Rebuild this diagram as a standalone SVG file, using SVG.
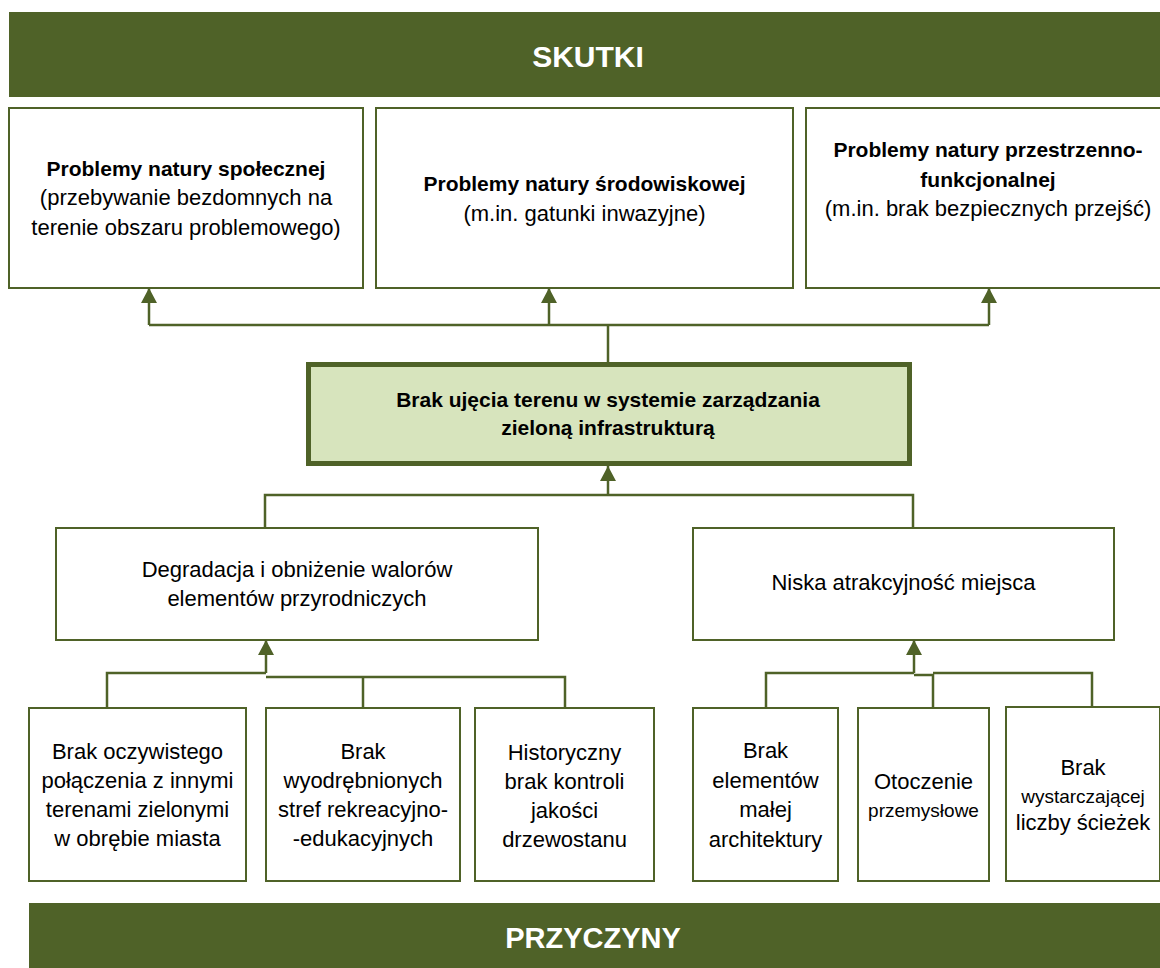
<svg xmlns="http://www.w3.org/2000/svg" width="1160" height="968" viewBox="0 0 1160 968">
<defs>
<style>
.banner{fill:#4f6228}
.bt{font-family:"Liberation Sans",Arial,sans-serif;font-weight:bold;font-size:29px;fill:#ffffff;text-anchor:middle}
.box{fill:#ffffff;stroke:#4f6228;stroke-width:2}
.main{fill:#d7e4bd;stroke:#4f6228;stroke-width:5}
.t{font-family:"Liberation Sans",Arial,sans-serif;font-size:22px;fill:#000000;text-anchor:middle}
.b{font-family:"Liberation Sans",Arial,sans-serif;font-size:21px;font-weight:bold;fill:#000000;text-anchor:middle}
.s{font-size:19px}
.con{fill:none;stroke:#4f6228;stroke-width:2.5}
</style>
<marker id="arr" viewBox="0 0 15 16" refX="15" refY="8" markerWidth="15" markerHeight="16" markerUnits="userSpaceOnUse" orient="auto">
<path d="M0,0 L15,8 L0,16 z" fill="#4f6228"/>
</marker>
</defs>
<rect width="1160" height="968" fill="#ffffff"/>

<g id="skutki">
<rect class="banner" x="9" y="12" width="1151" height="85"/>
<text class="bt" x="588" y="67" style="font-size:30px">SKUTKI</text>
</g>

<g id="n-spoleczne">
<rect class="box" x="9" y="108" width="354" height="180"/>
<text class="b" x="186" y="176">Problemy natury społecznej</text>
<text class="t" x="186" y="205">(przebywanie bezdomnych na</text>
<text class="t" x="186" y="235">terenie obszaru problemowego)</text>
</g>

<g id="n-srodowiskowe">
<rect class="box" x="376" y="108" width="417" height="180"/>
<text class="b" x="584.5" y="191">Problemy natury środowiskowej</text>
<text class="t" x="584.5" y="221">(m.in. gatunki inwazyjne)</text>
</g>

<g id="n-przestrzenne">
<rect class="box" x="806" y="108" width="364" height="180"/>
<text class="b" x="988" y="157">Problemy natury przestrzenno-</text>
<text class="b" x="988" y="187">funkcjonalnej</text>
<text class="t" x="988" y="216">(m.in. brak bezpiecznych przejść)</text>
</g>

<g id="n-main">
<rect class="main" x="308.5" y="364.5" width="601" height="99"/>
<text class="b" x="608" y="407">Brak ujęcia terenu w systemie zarządzania</text>
<text class="b" x="608" y="435">zieloną infrastrukturą</text>
</g>

<g id="n-degradacja">
<rect class="box" x="56" y="528" width="482" height="112"/>
<text class="t" x="297" y="577">Degradacja i obniżenie walorów</text>
<text class="t" x="297" y="606">elementów przyrodniczych</text>
</g>

<g id="n-niska">
<rect class="box" x="693" y="528" width="421" height="112"/>
<text class="t" x="903.5" y="590">Niska atrakcyjność miejsca</text>
</g>

<g id="c1">
<rect class="box" x="29" y="708" width="217" height="173"/>
<text class="t" x="137.5" y="759">Brak oczywistego</text>
<text class="t" x="137.5" y="788">połączenia z innymi</text>
<text class="t" x="137.5" y="817">terenami zielonymi</text>
<text class="t" x="137.5" y="846">w obrębie miasta</text>
</g>

<g id="c2">
<rect class="box" x="266" y="708" width="194" height="173"/>
<text class="t" x="363" y="759">Brak</text>
<text class="t" x="363" y="788">wyodrębnionych</text>
<text class="t" x="363" y="817">stref rekreacyjno-</text>
<text class="t" x="363" y="846">-edukacyjnych</text>
</g>

<g id="c3">
<rect class="box" x="475" y="708" width="179" height="173"/>
<text class="t" x="564.5" y="760">Historyczny</text>
<text class="t" x="564.5" y="789">brak kontroli</text>
<text class="t" x="564.5" y="818">jakości</text>
<text class="t" x="564.5" y="847">drzewostanu</text>
</g>

<g id="c4">
<rect class="box" x="693" y="708" width="145" height="173"/>
<text class="t" x="765.5" y="758">Brak</text>
<text class="t" x="765.5" y="788">elementów</text>
<text class="t" x="765.5" y="817">małej</text>
<text class="t" x="765.5" y="847">architektury</text>
</g>

<g id="c5">
<rect class="box" x="858" y="708" width="131" height="173"/>
<text class="t" x="923.5" y="789">Otoczenie</text>
<text class="t s" x="923.5" y="817">przemysłowe</text>
</g>

<g id="c6">
<rect class="box" x="1006" y="707" width="154" height="174"/>
<text class="t" x="1083" y="775">Brak</text>
<text class="t s" x="1083" y="803">wystarczającej</text>
<text class="t" x="1083" y="830">liczby ścieżek</text>
</g>

<g id="przyczyny">
<rect class="banner" x="29" y="903" width="1131" height="65"/>
<text class="bt" x="593" y="948">PRZYCZYNY</text>
</g>

<g id="connectors">
<path class="con" d="M149,325 H989"/>
<path class="con" d="M149,325 V288" marker-end="url(#arr)"/>
<path class="con" d="M549,325 V288" marker-end="url(#arr)"/>
<path class="con" d="M989,325 V288" marker-end="url(#arr)"/>
<path class="con" d="M608,362 V325"/>
<path class="con" d="M608,495 V466" marker-end="url(#arr)"/>
<path class="con" d="M265,527 V495 H913 V527"/>
<path class="con" d="M266,673 V640" marker-end="url(#arr)"/>
<path class="con" d="M107,708 V673 H266"/>
<path class="con" d="M266,677 H565 V708"/>
<path class="con" d="M363,677 V708"/>
<path class="con" d="M914,673 V640" marker-end="url(#arr)"/>
<path class="con" d="M766,708 V673 H914"/>
<path class="con" d="M914,675 H933 V708"/>
<path class="con" d="M933,673 H1092 V707"/>
</g>
</svg>
